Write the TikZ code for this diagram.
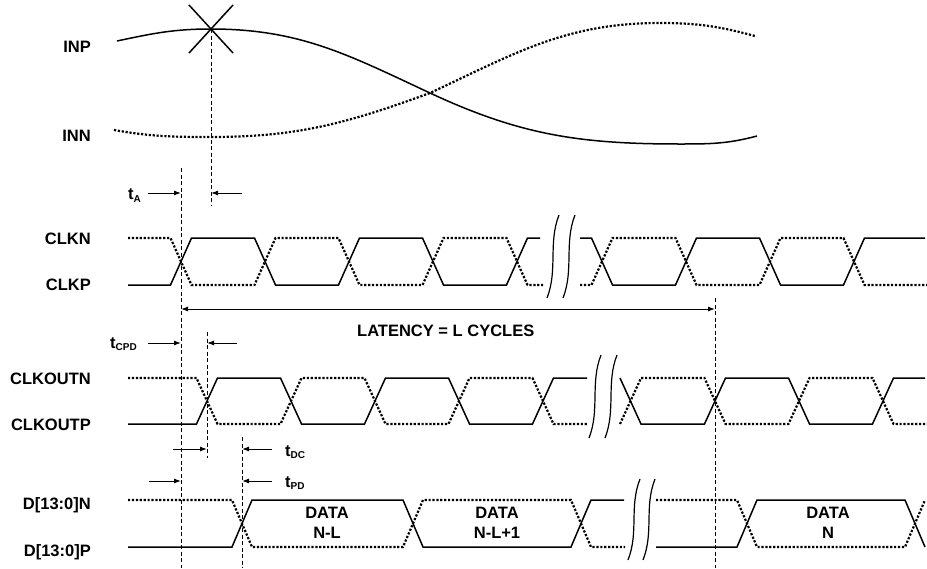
\documentclass[tikz,border=0pt]{standalone}
\usepackage{fontspec}
\setmainfont{Liberation Sans}
\usetikzlibrary{arrows.meta}

\newcommand{\tsub}[2]{#1\raisebox{-2.5pt}{\fontsize{10}{10}\selectfont #2}}

\tikzset{
  senal/.style={line width=1.5pt},
  punteada/.style={line width=2.2pt, dash pattern=on 2.2pt off 1.7pt},
  guia/.style={line width=1pt, dash pattern=on 4pt off 2.5pt},
  cota/.style={line width=1pt, ->},
  corte/.style={line width=1.2pt},
  etiqueta/.style={font=\fontsize{16.5}{20}\selectfont\bfseries, inner sep=0pt},
  subet/.style={etiqueta, anchor=base west}
}

\begin{document}
\begin{tikzpicture}[x=1pt,y=-1pt,>={Latex[length=7pt,width=5pt]}]
  \useasboundingbox (0,0) rectangle (927,568);

  % Nombres de las senales
  \node[etiqueta, anchor=base east] (inp) at (91,52) {INP};
  \node[etiqueta, anchor=base east] (inn) at (91,141) {INN};
  \node[etiqueta, anchor=base east] (clkn) at (91,244) {CLKN};
  \node[etiqueta, anchor=base east] (clkp) at (91,290) {CLKP};
  \node[etiqueta, anchor=base east] (clkoutn) at (91,384) {CLKOUTN};
  \node[etiqueta, anchor=base east] (clkoutp) at (91,430.5) {CLKOUTP};
  \node[etiqueta, anchor=base east] (dn) at (91,509) {D[13:0]N};
  \node[etiqueta, anchor=base east] (dp) at (91,556.5) {D[13:0]P};

  % Entrada analogica
  \draw[senal] (117,41) to[out=12,in=180] (211,29) to[out=0,in=155] (430,93)
    to[out=-25,in=180] (680,144) to[out=0,in=195] (757,136);
  \draw[punteada] (114,130) to[out=-10,in=180] (211,137) to[out=0,in=200] (430,93)
    to[out=25,in=180] (660,23) to[out=0,in=165] (755,36);

  % Instante de muestreo
  \coordinate (xpico) at (211,29);
  \draw[senal] (189,5) -- (233,53) (233,5) -- (189,53);

  % Lineas de referencia
  \coordinate (xclk) at (181,168);
  \coordinate (xout) at (207,332);
  \coordinate (xdat) at (242,437);
  \coordinate (xlat) at (715,298);
  \coordinate (finA) at (0,205);
  \coordinate (finB) at (0,458);
  \coordinate (fondo) at (0,568);
  \draw[guia] (xpico) -- (xpico |- finA);
  \draw[guia] (xclk) -- (xclk |- fondo);
  \draw[guia] (xout) -- (xout |- finB);
  \draw[guia] (xdat) -- (xdat |- fondo);
  \draw[guia] (xlat) -- (xlat |- fondo);

  % Reloj de entrada
  \draw[senal] (128,285) -- (170.5,285)
    foreach \k in {1,2} { -- ++(21,-47) -- ++(63,0) -- ++(21,47) -- ++(63,0) }
    -- ++(21,-47) -- (540,238);
  \draw[punteada] (128,238) -- (170.5,238)
    foreach \k in {1,2} { -- ++(21,47) -- ++(63,0) -- ++(21,-47) -- ++(63,0) }
    -- ++(21,47) -- (543,285);
  \draw[senal] (580,238) -- (591.5,238) -- ++(21,47) -- ++(63,0) -- ++(21,-47)
    -- ++(63,0) -- ++(21,47) -- ++(63,0) -- ++(21,-47) -- (925,238);
  \draw[punteada] (580,285) -- (591.5,285) -- ++(21,-47) -- ++(63,0) -- ++(21,47)
    -- ++(63,0) -- ++(21,-47) -- ++(63,0) -- ++(21,47) -- (927,285);

  % Reloj de salida
  \draw[senal] (128,424) -- (196.5,424)
    foreach \k in {1,2} { -- ++(21,-46) -- ++(63,0) -- ++(21,46) -- ++(63,0) }
    -- ++(21,-46) -- (587,378);
  \draw[punteada] (128,378) -- (196.5,378)
    foreach \k in {1,2} { -- ++(21,46) -- ++(63,0) -- ++(21,-46) -- ++(63,0) }
    -- ++(21,46) -- (587,424);
  \draw[senal] (620,378) -- (641,424) -- (704.5,424) -- ++(21,-46) -- ++(63,0)
    -- ++(21,46) -- ++(63,0) -- ++(21,-46) -- (925,378);
  \draw[punteada] (620,424) -- (641,378) -- (704.5,378) -- ++(21,46) -- ++(63,0)
    -- ++(21,-46) -- ++(63,0) -- ++(21,46) -- (927,424);

  % Datos
  \draw[senal] (128,547) -- (232,547) -- (252,500) -- (403,500) -- (423,547)
    -- (571,547) -- (591,500) -- (624,500);
  \draw[punteada] (128,500) -- (232,500) -- (252,547) -- (403,547) -- (423,500)
    -- (571,500) -- (591,547) -- (625,547);
  \draw[senal] (656,547) -- (737,547) -- (757,500) -- (905,500) -- (925,547);
  \draw[punteada] (656,500) -- (737,500) -- (757,547) -- (905,547) -- (925,500);

  \node[etiqueta, align=center] (d1) at (327,522.4) {DATA\\N-L};
  \node[etiqueta, align=center] (d2) at (497,522.4) {DATA\\N-L+1};
  \node[etiqueta, align=center] (d3) at (828,522.4) {DATA\\N};

  % Cortes de tiempo
  \foreach \x/\ya/\yb in {553/215/298, 569/215/298, 595/355/438, 611/355/438,
                          634/479/560, 649/479/560}
    \draw[corte] (\x+6,\ya) .. controls (\x-5,\ya+28) and (\x+5,\yb-28) .. (\x-6,\yb);

  % Cotas
  \coordinate (tAa) at (148,193);
  \coordinate (tAb) at (242,193);
  \draw[cota] (tAa) -- (tAa -| xclk);
  \draw[cota] (tAb) -- (tAb -| xpico);
  \node[subet] (tA) at (128,199.5) {\tsub{t}{A}};

  \coordinate (ylat) at (0,309);
  \draw[cota, <->] (ylat -| xclk) -- (ylat -| xlat);
  \node[etiqueta, anchor=base west] (latencia) at (357,336) {LATENCY = L CYCLES};

  \coordinate (tCa) at (148,343);
  \coordinate (tCb) at (237,343);
  \draw[cota] (tCa) -- (tCa -| xclk);
  \draw[cota] (tCb) -- (tCb -| xout);
  \node[subet] (tCPD) at (110,348) {\tsub{t}{CPD}};

  \coordinate (tDa) at (173,449);
  \coordinate (tDb) at (272,449);
  \draw[cota] (tDa) -- (tDa -| xout);
  \draw[cota] (tDb) -- (tDb -| xdat);
  \node[subet] (tDC) at (285,456) {\tsub{t}{DC}};

  \coordinate (tPa) at (149,481);
  \coordinate (tPb) at (272,481);
  \draw[cota] (tPa) -- (tPa -| xclk);
  \draw[cota] (tPb) -- (tPb -| xdat);
  \node[subet] (tPD) at (285,487) {\tsub{t}{PD}};
\end{tikzpicture}
\end{document}
